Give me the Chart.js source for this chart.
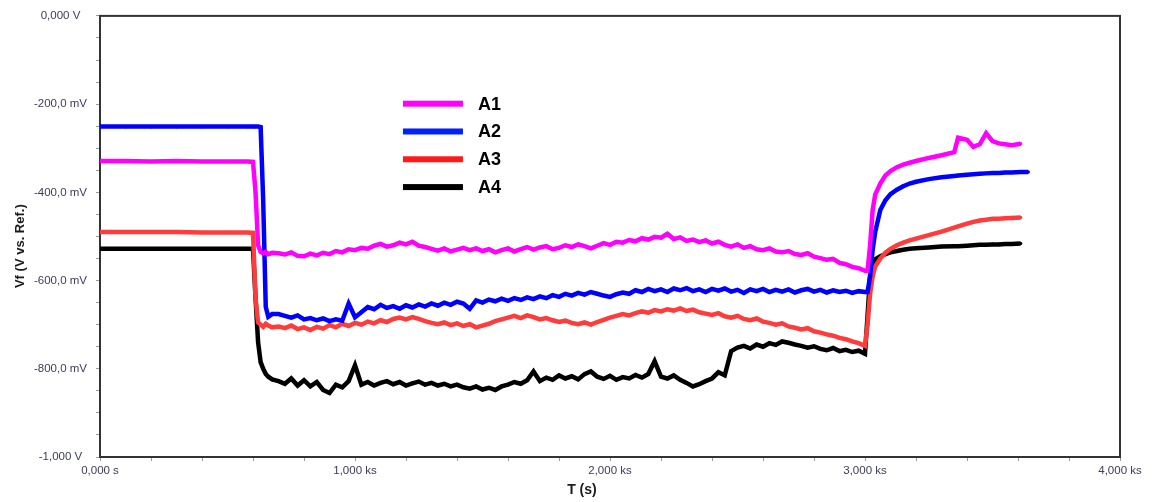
<!DOCTYPE html>
<html>
<head>
<meta charset="utf-8">
<script src="https://cdn.jsdelivr.net/npm/chart.js@4"></script>
<style>
html,body{margin:0;padding:0;background:#fff;}
#wrap{width:1160px;height:502px;position:relative;}
</style>
</head>
<body>
<div id="wrap"><canvas id="c" width="1160" height="502"></canvas></div>
<script>
// Time (s)
const timeS = [
  0,100,200,300,400,500,580,600,610,620,630,640,650,660,675,
  700,725,750,775,800,825,850,875,900,925,
  950,975,1000,1025,1050,1075,1100,1125,1150,1175,
  1200,1225,1250,1275,1300,1325,1350,1375,1400,1425,
  1450,1475,1500,1525,1550,1575,1600,1625,1650,1675,
  1700,1725,1750,1775,1800,1825,1850,1875,1900,1925,
  1950,1975,2000,2025,2050,2075,2100,2125,2150,2175,
  2200,2225,2250,2275,2300,2325,2350,2375,2400,2425,
  2450,2475,2500,2525,2550,2575,2600,2625,2650,2675,
  2700,2725,2750,2775,2800,2825,2850,2875,2900,2925,
  2950,2975,3000,
  3010,3020,3030,3040,3060,3080,3100,3125,3150,3175,3200,3250,3300,3350,3365,3400,3425,3450,3475,3500,3525,3550,3575,3610,3640
];
// Potential (mV)
const seriesA1 = [
  -329,-329,-330,-329,-330,-330,-330,-331,-400,-520,-535,-538,-535,-540,-537,
  -538,-541,-536,-544,-545,-539,-543,-537,-540,-533,
  -536,-529,-531,-526,-528,-521,-517,-523,-520,-514,
  -518,-512,-521,-524,-528,-532,-527,-534,-530,-526,
  -531,-527,-533,-529,-536,-531,-527,-534,-529,-524,
  -530,-525,-522,-529,-526,-520,-524,-518,-522,-527,
  -521,-515,-519,-512,-514,-508,-511,-504,-507,-501,
  -503,-494,-506,-502,-510,-507,-513,-509,-516,-512,
  -519,-523,-518,-526,-522,-529,-531,-527,-534,-536,
  -533,-540,-542,-538,-546,-549,-553,-551,-560,-563,
  -569,-572,-578,
  -578,-520,-440,-405,-380,-362,-352,-343,-337,-333,-329,-322,-316,-309,-276,-281,-297,-291,-266,-284,-289,-291,-293,-290,null
];
const seriesA2 = [
  -251,-251,-251,-251,-251,-251,-251,-251,-251,-251,-252,-420,-660,-682,-676,
  -676,-680,-684,-679,-688,-685,-690,-686,-692,-688,
  -691,-652,-683,-672,-660,-665,-655,-662,-658,-664,
  -656,-661,-654,-659,-652,-657,-650,-655,-648,-652,
  -664,-645,-650,-643,-647,-641,-646,-640,-644,-638,
  -642,-636,-640,-633,-637,-630,-634,-628,-632,-626,
  -630,-634,-637,-631,-627,-630,-622,-626,-619,-624,
  -620,-626,-618,-622,-617,-624,-620,-626,-619,-623,
  -618,-625,-621,-628,-620,-624,-619,-626,-621,-625,
  -620,-627,-622,-619,-625,-621,-627,-622,-626,-623,
  -628,-624,-626,
  -626,-590,-530,-490,-440,-418,-404,-394,-386,-380,-376,-370,-366,-363,-362,-360,-359,-358,-357,-356,-356,-355,-355,-354,-354
];
const seriesA3 = [
  -490,-490,-490,-490,-491,-491,-491,-492,-640,-695,-700,-705,-698,-702,-706,
  -704,-708,-702,-710,-706,-712,-705,-709,-701,-706,
  -698,-703,-696,-700,-693,-697,-690,-694,-687,-684,
  -688,-683,-687,-692,-696,-699,-695,-701,-697,-703,
  -699,-706,-702,-698,-692,-688,-684,-680,-685,-679,
  -683,-688,-685,-690,-694,-691,-696,-699,-695,-700,
  -694,-689,-684,-680,-676,-679,-674,-670,-673,-667,
  -670,-665,-668,-663,-669,-666,-672,-675,-678,-674,
  -681,-684,-680,-687,-690,-686,-693,-696,-700,-697,
  -704,-707,-711,-708,-715,-718,-722,-725,-730,-733,
  -738,-742,-748,
  -700,-630,-590,-568,-550,-537,-528,-520,-514,-509,-505,-497,-489,-480,-477,-471,-467,-464,-462,-460,-460,-459,-458,-457,null
];
const seriesA4 = [
  -528,-528,-528,-528,-528,-528,-528,-528,-640,-740,-785,-800,-812,-818,-824,
  -828,-834,-822,-838,-826,-840,-830,-848,-855,-836,
  -842,-828,-792,-836,-830,-838,-832,-828,-835,-830,
  -838,-833,-829,-836,-832,-838,-834,-840,-836,-842,
  -845,-840,-847,-843,-848,-840,-836,-830,-834,-826,
  -806,-828,-820,-825,-815,-822,-817,-824,-812,-806,
  -818,-823,-816,-825,-819,-822,-814,-820,-812,-783,
  -818,-822,-815,-825,-832,-840,-835,-828,-822,-808,
  -815,-760,-752,-748,-754,-745,-750,-742,-746,-738,
  -741,-745,-748,-752,-749,-755,-758,-753,-760,-757,
  -762,-759,-766,
  -680,-590,-562,-552,-545,-540,-536,-533,-530,-528,-527,-525,-523,-522,-522,-521,-520,-519,-519,-518,-518,-517,-517,-516,null
];
const seriesNames = ['A1','A2','A3','A4'];
const seriesColors = ['#ff00ff','#0000ff','#ff3c3c','#000000'];
const legendColors = ['#ff00ff','#0022ff','#ff1a1a','#000000'];
const yTickLabels = {'0':'0,000 V','-200':'-200,0 mV','-400':'-400,0 mV','-600':'-600,0 mV','-800':'-800,0 mV','-1000':'-1,000 V'};
const xTickLabels = {'0':'0,000 s','1000':'1,000 ks','2000':'2,000 ks','3000':'3,000 ks','4000':'4,000 ks'};
const xTitle = 'T (s)';
const yTitle = 'Vf (V vs. Ref.)';

const allSeries = [seriesA1, seriesA2, seriesA3, seriesA4];
const datasets = allSeries.map((vals, i) => ({
  label: seriesNames[i],
  data: timeS.map((t, k) => ({x: t, y: vals[k]})),
  borderColor: seriesColors[i],
  backgroundColor: seriesColors[i],
  borderWidth: 4.5,
  pointRadius: 1.8,
  pointBorderWidth: 0,
  tension: 0,
  spanGaps: false
}));

const tickFont = {family: '"Liberation Sans", Arial, sans-serif', size: 11.5};
const tickColor = '#3c3c58';

const decor = {
  id: 'decor',
  beforeDatasetsDraw(chart) {
    const {ctx, chartArea: a} = chart;
    ctx.save();
    ctx.strokeStyle = '#333333';
    ctx.lineWidth = 2;
    ctx.strokeRect(a.left, a.top, a.right - a.left, a.bottom - a.top);
    ctx.restore();
  },
  afterDraw(chart) {
    const {ctx, chartArea: a} = chart;
    ctx.save();
    ctx.fillStyle = '#1a1a1a';
    ctx.font = 'bold 14px "Liberation Sans", Arial, sans-serif';
    ctx.textAlign = 'center';
    ctx.textBaseline = 'middle';
    ctx.fillText(xTitle, a.left + (a.right - a.left) * 0.4725, 490);
    ctx.save();
    ctx.translate(20, a.top + (a.bottom - a.top) * 0.522);
    ctx.rotate(-Math.PI / 2);
    ctx.font = 'bold 13px "Liberation Sans", Arial, sans-serif';
    ctx.fillText(yTitle, 0, 0);
    ctx.restore();
    const lx = a.left + (a.right - a.left) * 0.297;
    const ly0 = a.top + (a.bottom - a.top) * 0.199;
    const step = 27.8;
    ctx.font = 'bold 18px "Liberation Sans", Arial, sans-serif';
    ctx.textAlign = 'left';
    seriesNames.forEach((n, i) => {
      const y = ly0 + i * step;
      ctx.fillStyle = legendColors[i];
      ctx.fillRect(lx, y - 3, 60, 6);
      ctx.fillStyle = '#000';
      ctx.fillText(n, lx + 75, y + 1);
    });
    ctx.restore();
  }
};

new Chart(document.getElementById('c'), {
  type: 'line',
  data: {datasets},
  options: {
    responsive: false,
    animation: false,
    devicePixelRatio: 1,
    layout: {padding: {top: 11, right: 40, bottom: 0, left: 0}},
    plugins: {legend: {display: false}, tooltip: {enabled: false}},
    scales: {
      x: {
        type: 'linear', min: 0, max: 4000,
        afterFit(s) { s.height = 45; },
        border: {display: true, color: '#333333', width: 2},
        grid: {drawOnChartArea: false, drawTicks: true, tickLength: 4, color: '#9a9a9a', lineWidth: 1},
        ticks: {
          stepSize: 200, autoSkip: false, maxRotation: 0, padding: 3,
          font: tickFont, color: tickColor,
          callback: v => xTickLabels[String(v)] || ''
        }
      },
      y: {
        type: 'linear', min: -1000, max: 0,
        afterFit(s) { s.width = 100; },
        border: {display: true, color: '#333333', width: 2},
        grid: {drawOnChartArea: false, drawTicks: true, tickLength: 4, color: '#9a9a9a', lineWidth: 1},
        ticks: {
          stepSize: 50, autoSkip: false, padding: 9, crossAlign: 'center',
          font: tickFont, color: tickColor,
          callback: v => yTickLabels[String(v)] || ''
        }
      }
    }
  },
  plugins: [decor]
});
</script>
</body>
</html>
